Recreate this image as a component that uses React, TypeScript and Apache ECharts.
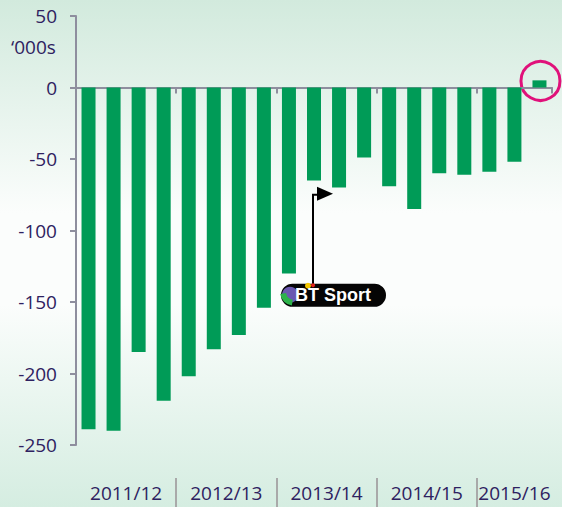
import React, { useEffect, useRef } from "react";
import * as echarts from "echarts";

// Quarterly net change ('000s), financial years 2011/12 – 2015/16
const quarters = [
  "Q1 2011/12", "Q2 2011/12", "Q3 2011/12", "Q4 2011/12",
  "Q1 2012/13", "Q2 2012/13", "Q3 2012/13", "Q4 2012/13",
  "Q1 2013/14", "Q2 2013/14", "Q3 2013/14", "Q4 2013/14",
  "Q1 2014/15", "Q2 2014/15", "Q3 2014/15", "Q4 2014/15",
  "Q1 2015/16", "Q2 2015/16", "Q3 2015/16",
];
const netChange = [
  -239, -240, -185, -219,
  -202, -183, -173, -154,
  -130, -65, -70, -49,
  -69, -85, -60, -61,
  -59, -52, 5,
];
const yearLabels = ["2011/12", "2012/13", "2013/14", "2014/15", "2015/16"];
const quartersPerYear = [4, 4, 4, 4, 3];
const yTicks = { min: -250, max: 50, interval: 50 };
const unitLabel = "‘000s";
const annotationLabel = "BT Sport";
const btLaunchIndex = 9; // bar where BT Sport launch arrow is placed
const btArrowValue = -75;
const highlightIndex = 18; // circled positive bar

// derived group boundaries / centers
const yearBoundaries: number[] = [];
const yearCenters: number[] = [];
{
  let acc = 0;
  quartersPerYear.forEach((n, i) => {
    yearCenters.push(acc + n / 2);
    acc += n;
    if (i < quartersPerYear.length - 1) yearBoundaries.push(acc);
  });
}

const FONT = "'Open Sans', 'Noto Sans', sans-serif";
const TEXT_COLOR = "#2e2160";
const AXIS_COLOR = "#8e8e9e";

export default function App() {
  const ref = useRef<HTMLDivElement>(null);

  useEffect(() => {
    if (!ref.current) return;
    const chart = echarts.init(ref.current, undefined, { renderer: "svg" });
    const option: any = {
      animation: false,
      backgroundColor: {
        type: "linear",
        x: 0, y: 0, x2: 0, y2: 1,
        colorStops: [
          { offset: 0, color: "#d2eadd" },
          { offset: 0.42, color: "#fbfdfc" },
          { offset: 0.6, color: "#fbfdfc" },
          { offset: 1, color: "#d5ede1" },
        ],
      },
      grid: { left: 76, right: 10, top: 16, bottom: 62, outerBoundsMode: "none" },
      xAxis: [
        {
          type: "category",
          data: quarters,
          axisLine: { onZero: true, lineStyle: { color: AXIS_COLOR, width: 2 } },
          axisTick: { show: true, length: 6, lineStyle: { color: AXIS_COLOR, width: 2 } },
          axisLabel: { show: false },
          splitLine: { show: false },
        },
        {
          type: "value",
          position: "bottom",
          offset: 33,
          min: 0,
          max: quarters.length,
          axisLine: { show: false },
          splitLine: { show: false },
          axisTick: {
            show: true,
            customValues: yearBoundaries,
            length: 30,
            lineStyle: { color: "#a9a9a9", width: 2 },
          },
          axisLabel: {
            show: true,
            customValues: yearCenters,
            margin: 5,
            fontFamily: FONT,
            fontSize: 19,
            lineHeight: 19,
            color: TEXT_COLOR,
            formatter: (v: number) => {
              const i = yearCenters.findIndex((c) => Math.abs(c - v) < 1e-6);
              return i >= 0 ? yearLabels[i] : "";
            },
          },
        },
      ],
      yAxis: {
        type: "value",
        min: yTicks.min,
        max: yTicks.max,
        interval: yTicks.interval,
        axisLine: { show: true, lineStyle: { color: AXIS_COLOR, width: 2 } },
        axisTick: { show: true, length: 6, lineStyle: { color: AXIS_COLOR, width: 2 } },
        splitLine: { show: false },
        axisLabel: {
          margin: 19,
          fontFamily: FONT,
          fontSize: 19,
          color: TEXT_COLOR,
        },
      },
      series: [
        {
          type: "bar",
          xAxisIndex: 0,
          yAxisIndex: 0,
          data: netChange,
          barWidth: 14,
          itemStyle: { color: "#009b57" },
        },
      ],
    };
    chart.setOption(option);

    const arrowBase = chart.convertToPixel({ xAxisIndex: 0, yAxisIndex: 0 }, [btLaunchIndex, btArrowValue]) as number[];
    const hl = chart.convertToPixel({ xAxisIndex: 0, yAxisIndex: 0 }, [highlightIndex, netChange[highlightIndex] / 2]) as number[];
    const ax = arrowBase[0] - 1;
    const ay = arrowBase[1];
    const logoX = ax - 32;
    const logoY = ay + 89;

    chart.setOption({
      graphic: [
        {
          type: "text",
          left: 11,
          top: 37,
          style: { text: unitLabel, fontFamily: FONT, fontSize: 19, fill: TEXT_COLOR },
        },
        {
          type: "polyline",
          shape: { points: [[ax, logoY + 2], [ax, ay], [ax + 5, ay]] },
          style: { stroke: "#000", lineWidth: 2, fill: "none" },
        },
        {
          type: "polygon",
          shape: { points: [[ax + 4, ay - 8], [ax + 20, ay - 1], [ax + 4, ay + 6]] },
          style: { fill: "#000" },
        },
        {
          type: "group",
          x: logoX,
          y: logoY,
          children: [
            { type: "rect", shape: { x: 0, y: 0, width: 105, height: 23, r: 11.5 }, style: { fill: "#050505" } },
            { type: "circle", shape: { cx: 9, cy: 11, r: 8 }, style: { fill: "#6b58b0" } },
            { type: "sector", shape: { cx: 13, cy: 8, r0: 8, r: 14, startAngle: Math.PI * 0.55, endAngle: Math.PI * 0.95 }, style: { fill: "#2db34a" } },
            { type: "circle", shape: { cx: 27, cy: 2, r: 3 }, style: { fill: "#f6c900" } },
            { type: "circle", shape: { cx: 32, cy: 1.5, r: 2 }, style: { fill: "#e2231a" } },
            {
              type: "text",
              x: 14,
              y: 11.5,
              style: {
                text: annotationLabel,
                fontFamily: "'Liberation Sans', Arial, sans-serif",
                fontWeight: "bold",
                fontSize: 18,
                fill: "#ffffff",
                verticalAlign: "middle",
                align: "left",
              },
            },
          ],
        },
        {
          type: "circle",
          shape: { cx: hl[0] + 1, cy: hl[1] - 3, r: 19.5 },
          style: { fill: "none", stroke: "#e0117a", lineWidth: 3 },
        },
      ],
    });

    return () => chart.dispose();
  }, []);

  return (
    <div
      ref={ref}
      style={{ position: "absolute", left: 0, top: 0, width: 562, height: 507 }}
    />
  );
}
